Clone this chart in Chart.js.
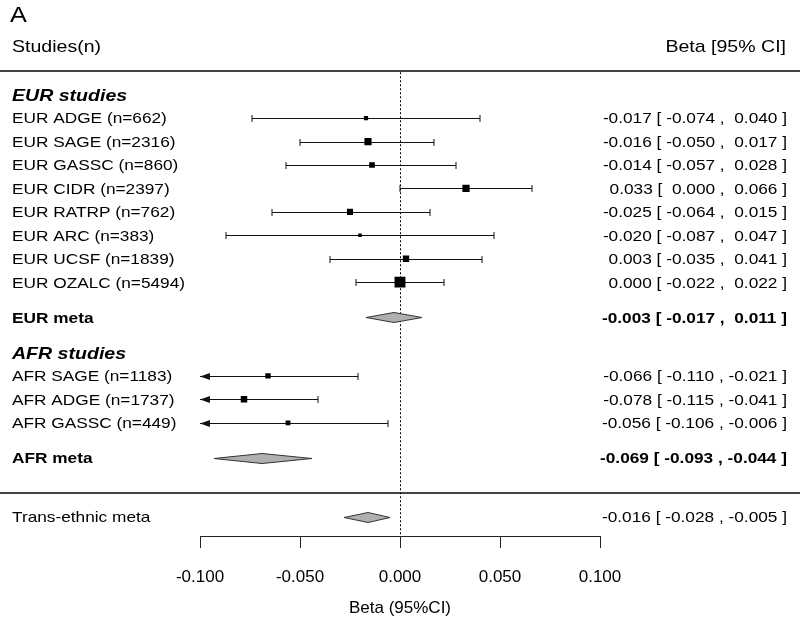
<!DOCTYPE html>
<html>
<head>
<meta charset="utf-8">
<script src="https://cdn.jsdelivr.net/npm/chart.js@4.4.1/dist/chart.umd.min.js"></script>
<style>
body { margin: 0; background: #fff; }
canvas { display: block; }
</style>
</head>
<body>
<canvas id="forest" width="800" height="621"></canvas>
<script>
//-------------
//- DATA
//-------------
var eurLabels = ['EUR ADGE (n=662)', 'EUR SAGE (n=2316)', 'EUR GASSC (n=860)', 'EUR CIDR (n=2397)',
    'EUR RATRP (n=762)', 'EUR ARC (n=383)', 'EUR UCSF (n=1839)', 'EUR OZALC (n=5494)'];
var eurBeta  = [-0.017, -0.016, -0.014, 0.033, -0.025, -0.020, 0.003, 0.000];
var eurLower = [-0.074, -0.050, -0.057, 0.000, -0.064, -0.087, -0.035, -0.022];
var eurUpper = [0.040, 0.017, 0.028, 0.066, 0.015, 0.047, 0.041, 0.022];

var afrLabels = ['AFR SAGE (n=1183)', 'AFR ADGE (n=1737)', 'AFR GASSC (n=449)'];
var afrBeta  = [-0.066, -0.078, -0.056];
var afrLower = [-0.110, -0.115, -0.106];
var afrUpper = [-0.021, -0.041, -0.006];

var metaLabels = ['EUR meta', 'AFR meta', 'Trans-ethnic meta'];
var metaBeta  = [-0.003, -0.069, -0.016];
var metaLower = [-0.017, -0.093, -0.028];
var metaUpper = [0.011, -0.044, -0.005];

var xTicks = [-0.1, -0.05, 0, 0.05, 0.1];

var FONT = '"Liberation Sans", Arial, Helvetica, sans-serif';
var STRETCH = 1.15;   // text in the original is a bit wider than Arial

//-------------
//- ROW LAYOUT (row units, top to bottom)
//-------------
var eurHeadRow = 0;
var eurRows = eurLabels.map(function (l, i) { return eurHeadRow + 1 + i; });
var eurMetaRow = eurRows[eurRows.length - 1] + 1.5;
var afrHeadRow = eurMetaRow + 1.5;
var afrRows = afrLabels.map(function (l, i) { return afrHeadRow + 1 + i; });
var afrMetaRow = afrRows[afrRows.length - 1] + 1.5;
var sepRow = afrMetaRow + 1.5;
var transRow = sepRow + 1;
var metaRows = [eurMetaRow, afrMetaRow, transRow];

function fmt(v) {
    return (v < 0 ? '' : ' ') + v.toFixed(3);
}
function ciText(b, l, u) {
    return fmt(b) + ' [ ' + fmt(l) + ' , ' + fmt(u) + ' ]';
}

// squares
var points = [];
eurBeta.forEach(function (b, i) { points.push({ x: b, y: eurRows[i], l: eurLower[i], u: eurUpper[i] }); });
afrBeta.forEach(function (b, i) { points.push({ x: b, y: afrRows[i], l: afrLower[i], u: afrUpper[i] }); });

// box side proportional to 1/SE (i.e. 1/CI width)
function boxRadius(c) {
    var p = c.raw;
    if (!p) return 0;
    var side = 0.48 / (p.u - p.l);
    return side / Math.SQRT2;
}

function drawText(ctx, text, x, y, size, style, align) {
    ctx.save();
    ctx.font = (style ? style + ' ' : '') + size + 'px ' + FONT;
    ctx.textAlign = align || 'left';
    ctx.textBaseline = 'alphabetic';
    ctx.fillStyle = '#000';
    ctx.translate(x, y + size * 0.358);
    ctx.scale(STRETCH, 1);
    ctx.fillText(text, 0, 0);
    ctx.restore();
}

function drawWhisker(ctx, xs, y, lo, hi) {
    var l = Math.max(lo, xs.min), h = Math.min(hi, xs.max);
    var pl = xs.getPixelForValue(l), ph = xs.getPixelForValue(h);
    ctx.strokeStyle = '#111';
    ctx.fillStyle = '#111';
    ctx.lineWidth = 1;
    ctx.beginPath();
    ctx.moveTo(pl, y);
    ctx.lineTo(ph, y);
    ctx.stroke();
    // left end
    if (lo < xs.min) {
        ctx.beginPath();
        ctx.moveTo(pl, y);
        ctx.lineTo(pl + 10, y - 3.5);
        ctx.lineTo(pl + 10, y + 3.5);
        ctx.closePath();
        ctx.fill();
    } else {
        ctx.beginPath();
        ctx.moveTo(pl, y - 3.5);
        ctx.lineTo(pl, y + 3.5);
        ctx.stroke();
    }
    // right end
    if (hi > xs.max) {
        ctx.beginPath();
        ctx.moveTo(ph, y);
        ctx.lineTo(ph - 10, y - 3.5);
        ctx.lineTo(ph - 10, y + 3.5);
        ctx.closePath();
        ctx.fill();
    } else {
        ctx.beginPath();
        ctx.moveTo(ph, y - 3.5);
        ctx.lineTo(ph, y + 3.5);
        ctx.stroke();
    }
}

function drawDiamond(ctx, xs, y, b, lo, hi) {
    var pl = xs.getPixelForValue(lo), pb = xs.getPixelForValue(b), ph = xs.getPixelForValue(hi);
    ctx.beginPath();
    ctx.moveTo(pl, y);
    ctx.lineTo(pb, y - 5);
    ctx.lineTo(ph, y);
    ctx.lineTo(pb, y + 5);
    ctx.closePath();
    ctx.fillStyle = '#b0b0b0';
    ctx.fill();
    ctx.strokeStyle = '#333';
    ctx.lineWidth = 1;
    ctx.stroke();
}

var forestPlugin = {
    id: 'forest',
    beforeDraw: function (chart) {
        var ctx = chart.ctx;
        ctx.save();
        ctx.fillStyle = '#fff';
        ctx.fillRect(0, 0, chart.width, chart.height);
        ctx.restore();
    },
    beforeDatasetsDraw: function (chart) {
        var ctx = chart.ctx, xs = chart.scales.x, ys = chart.scales.y;
        ctx.save();

        // rules
        ctx.strokeStyle = '#444';
        ctx.lineWidth = 2;
        [eurHeadRow - 1, sepRow].forEach(function (r) {
            var py = Math.round(ys.getPixelForValue(r));
            ctx.beginPath();
            ctx.moveTo(0, py);
            ctx.lineTo(chart.width, py);
            ctx.stroke();
        });

        // zero line
        var x0 = Math.round(xs.getPixelForValue(0)) + 0.5;
        ctx.strokeStyle = '#000';
        ctx.lineWidth = 1;
        ctx.setLineDash([2, 2]);
        ctx.beginPath();
        ctx.moveTo(x0, ys.getPixelForValue(eurHeadRow - 1) + 1);
        ctx.lineTo(x0, chart.chartArea.bottom);
        ctx.stroke();
        ctx.setLineDash([]);

        // confidence intervals
        eurRows.forEach(function (r, i) {
            drawWhisker(ctx, xs, Math.round(ys.getPixelForValue(r)) + 0.5, eurLower[i], eurUpper[i]);
        });
        afrRows.forEach(function (r, i) {
            drawWhisker(ctx, xs, Math.round(ys.getPixelForValue(r)) + 0.5, afrLower[i], afrUpper[i]);
        });

        // meta diamonds
        metaRows.forEach(function (r, i) {
            drawDiamond(ctx, xs, Math.round(ys.getPixelForValue(r)) + 0.5, metaBeta[i], metaLower[i], metaUpper[i]);
        });
        ctx.restore();
    },
    afterDraw: function (chart) {
        var ctx = chart.ctx, ys = chart.scales.y;
        var left = 12, right = 787;
        function py(r) { return ys.getPixelForValue(r); }

        drawText(ctx, 'A', 10, 14, 22, '', 'left');
        drawText(ctx, 'Studies(n)', left, 46, 17, '', 'left');
        drawText(ctx, 'Beta [95% CI]', right - 1, 46, 17, '', 'right');

        drawText(ctx, 'EUR studies', left, py(eurHeadRow), 17, 'italic bold', 'left');
        eurLabels.forEach(function (t, i) {
            drawText(ctx, t, left, py(eurRows[i]), 15, '', 'left');
            drawText(ctx, ciText(eurBeta[i], eurLower[i], eurUpper[i]), right, py(eurRows[i]), 15, '', 'right');
        });

        drawText(ctx, 'AFR studies', left, py(afrHeadRow), 17, 'italic bold', 'left');
        afrLabels.forEach(function (t, i) {
            drawText(ctx, t, left, py(afrRows[i]), 15, '', 'left');
            drawText(ctx, ciText(afrBeta[i], afrLower[i], afrUpper[i]), right, py(afrRows[i]), 15, '', 'right');
        });

        metaLabels.forEach(function (t, i) {
            var style = i < 2 ? 'bold' : '';
            drawText(ctx, t, left, py(metaRows[i]), 15, style, 'left');
            drawText(ctx, ciText(metaBeta[i], metaLower[i], metaUpper[i]), right, py(metaRows[i]), 15, style, 'right');
        });
    }
};

var canvas = document.getElementById('forest');
var chart = new Chart(canvas.getContext('2d'), {
    type: 'scatter',
    data: {
        datasets: [{
            data: points,
            pointStyle: 'rect',
            backgroundColor: '#000',
            borderColor: '#000',
            borderWidth: 0,
            pointRadius: boxRadius,
            pointHoverRadius: boxRadius
        }]
    },
    options: {
        responsive: false,
        animation: false,
        devicePixelRatio: 1,
        events: [],
        layout: { padding: { left: 200, right: 200, top: 0, bottom: 0 } },
        plugins: {
            legend: { display: false },
            tooltip: { enabled: false }
        },
        scales: {
            x: {
                type: 'linear',
                position: 'bottom',
                min: xTicks[0],
                max: xTicks[xTicks.length - 1],
                afterBuildTicks: function (scale) {
                    scale.ticks = xTicks.map(function (v) { return { value: v }; });
                },
                afterFit: function (scale) { scale.height = 85; },
                grid: { display: true, drawOnChartArea: false, drawTicks: true, tickLength: 12, color: '#222', lineWidth: 1 },
                border: { display: true, color: '#222', width: 1 },
                ticks: {
                    color: '#000',
                    font: { family: FONT, size: 17 },
                    padding: 19,
                    maxRotation: 0,
                    autoSkip: false,
                    callback: function (v) { return Number(v).toFixed(3); }
                },
                title: {
                    display: true,
                    text: 'Beta (95%CI)',
                    color: '#000',
                    font: { family: FONT, size: 17 },
                    padding: { top: 4, bottom: 2 }
                }
            },
            y: {
                type: 'linear',
                display: false,
                reverse: true,
                min: -3.71,
                max: 18.83
            }
        }
    },
    plugins: [forestPlugin]
});
</script>
</body>
</html>
